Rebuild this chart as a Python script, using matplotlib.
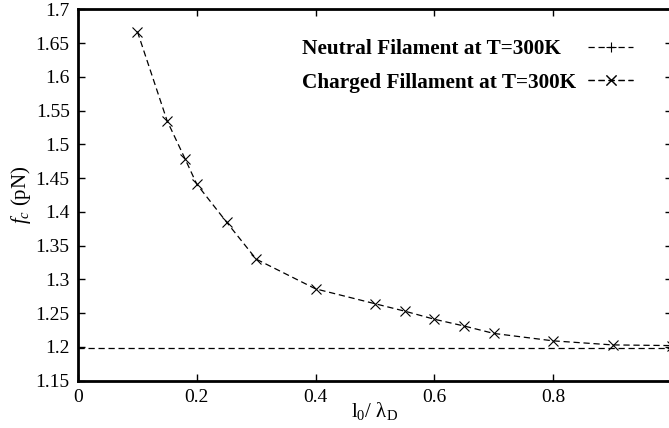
import numpy as np
import matplotlib.pyplot as plt

plt.rcParams.update({
    'font.family': 'Liberation Serif',
    'font.size': 14,
    'mathtext.fontset': 'custom',
    'mathtext.rm': 'Liberation Serif',
    'mathtext.it': 'Liberation Serif:italic',
})

# charged filament
x_charged = [0.1, 0.15, 0.18, 0.2, 0.25, 0.3, 0.4, 0.5, 0.55, 0.6, 0.65, 0.7, 0.8, 0.9, 1.0]
f_charged = [1.667, 1.535, 1.479, 1.441, 1.385, 1.330, 1.286, 1.264, 1.253, 1.241,
             1.231, 1.220, 1.209, 1.203, 1.202]
# neutral filament
x_neutral = [0.0, 1.0]
f_neutral = [1.198, 1.198]

labels = ['Neutral Filament at T=300K', 'Charged Fillament at T=300K']

fig = plt.figure(figsize=(6.69, 4.28), dpi=100)
ax = fig.add_axes([78 / 669, 1 - 380.7 / 428, 594 / 669, 371.4 / 428])

dash = (0, (5, 3))
l1, = ax.plot(x_neutral, f_neutral, color='black', linestyle=dash, linewidth=0.9,
              marker='+', markersize=6.5, markeredgewidth=0.8)
l2, = ax.plot(x_charged, f_charged, color='black', linestyle=dash, linewidth=0.9,
              marker='x', markersize=6.5, markeredgewidth=0.8)

ax.set_xlim(0, 1.0)
ax.set_ylim(1.15, 1.7)
ax.set_xticks([0, 0.2, 0.4, 0.6, 0.8])
ax.set_xticklabels(['0', '0.2', '0.4', '0.6', '0.8'])
yt = np.round(np.arange(1.15, 1.701, 0.05), 2)
ax.set_yticks(yt)
ax.set_yticklabels([f'{v:g}' for v in yt])
ax.tick_params(direction='in', length=5, width=1, top=True, right=True,
               labelsize=14, pad=6)
for s in ax.spines.values():
    s.set_linewidth(2)

ax.set_xlabel('l$_0$/ λ$_{\\rm D}$', fontsize=15, labelpad=-4)
ax.set_ylabel('$f_c$ (pN)', fontsize=15, labelpad=2)

# key: left-aligned text, samples on the right (gnuplot style)
rows = [0.893, 0.802]
for h, lab, yr in zip([l1, l2], labels, rows):
    ax.text(0.377, yr, lab, transform=ax.transAxes, ha='left', va='center',
            fontsize=15.3, fontweight='bold')
    lg = ax.legend([h], [''], loc='center left', bbox_to_anchor=(0.858, yr),
                   frameon=False, numpoints=1, handlelength=2.2,
                   handletextpad=0, borderpad=0, borderaxespad=0, fontsize=15)
    ax.add_artist(lg)

fig.savefig('out.png', dpi=100)
